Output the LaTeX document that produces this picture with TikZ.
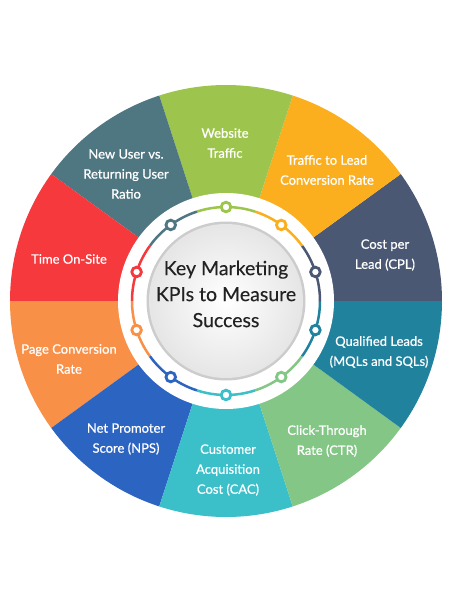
\documentclass[tikz,border=0pt]{standalone}
\usepackage{fontspec}
\setmainfont{Lato}
\newfontfamily\kpifont{Lato}[FakeBold=0.7]
\newfontfamily\titlefont{Lato}[FakeBold=0.3]
\definecolor{webgreen}{HTML}{9DC54E}
\definecolor{leadorange}{HTML}{FBAE1E}
\definecolor{cplslate}{HTML}{4B5874}
\definecolor{mqlteal}{HTML}{21829E}
\definecolor{ctrgreen}{HTML}{84C686}
\definecolor{caccyan}{HTML}{3BBFC9}
\definecolor{npsblue}{HTML}{2C64C2}
\definecolor{pageorange}{HTML}{F99048}
\definecolor{timered}{HTML}{F5393D}
\definecolor{userslate}{HTML}{4F7782}
\definecolor{titlegray}{HTML}{222222}
\begin{document}
\begin{tikzpicture}[
    kpi/.style={text=white, align=center, font=\kpifont\fontsize{13}{20}\selectfont},
    ringarc/.style={line width=2.5pt},
    ringdot/.style={draw=#1, line width=2.8pt, fill=white}
  ]
  \useasboundingbox (-226pt,-299pt) rectangle (224pt,301pt);
  % outer wedges
  \fill[cplslate]   (0,0) -- (0:216pt)   arc[start angle=0,   end angle=36,  radius=216pt] -- cycle;
  \fill[leadorange] (0,0) -- (36:216pt)  arc[start angle=36,  end angle=72,  radius=216pt] -- cycle;
  \fill[webgreen]   (0,0) -- (72:216pt)  arc[start angle=72,  end angle=108, radius=216pt] -- cycle;
  \fill[userslate]  (0,0) -- (108:216pt) arc[start angle=108, end angle=144, radius=216pt] -- cycle;
  \fill[timered]    (0,0) -- (144:216pt) arc[start angle=144, end angle=180, radius=216pt] -- cycle;
  \fill[pageorange] (0,0) -- (180:216pt) arc[start angle=180, end angle=216, radius=216pt] -- cycle;
  \fill[npsblue]    (0,0) -- (216:216pt) arc[start angle=216, end angle=252, radius=216pt] -- cycle;
  \fill[caccyan]    (0,0) -- (252:216pt) arc[start angle=252, end angle=288, radius=216pt] -- cycle;
  \fill[ctrgreen]   (0,0) -- (288:216pt) arc[start angle=288, end angle=324, radius=216pt] -- cycle;
  \fill[mqlteal]    (0,0) -- (324:216pt) arc[start angle=324, end angle=360, radius=216pt] -- cycle;
  % white ring
  \fill[white] (0,0) circle (108pt);
  % coloured ring arcs
  \draw[ringarc, cplslate]   (0:94pt)   arc[start angle=0,   end angle=36,  radius=94pt];
  \draw[ringarc, leadorange] (36:94pt)  arc[start angle=36,  end angle=72,  radius=94pt];
  \draw[ringarc, webgreen]   (72:94pt)  arc[start angle=72,  end angle=108, radius=94pt];
  \draw[ringarc, userslate]  (108:94pt) arc[start angle=108, end angle=144, radius=94pt];
  \draw[ringarc, timered]    (144:94pt) arc[start angle=144, end angle=180, radius=94pt];
  \draw[ringarc, pageorange] (180:94pt) arc[start angle=180, end angle=216, radius=94pt];
  \draw[ringarc, npsblue]    (216:94pt) arc[start angle=216, end angle=252, radius=94pt];
  \draw[ringarc, caccyan]    (252:94pt) arc[start angle=252, end angle=288, radius=94pt];
  \draw[ringarc, ctrgreen]   (288:94pt) arc[start angle=288, end angle=324, radius=94pt];
  \draw[ringarc, mqlteal]    (324:94pt) arc[start angle=324, end angle=360, radius=94pt];
  % dots on the ring
  \draw[ringdot=webgreen]   (90:94pt)  circle (4.8pt);
  \draw[ringdot=leadorange] (54:94pt)  circle (4.8pt);
  \draw[ringdot=cplslate]   (18:94pt)  circle (4.8pt);
  \draw[ringdot=mqlteal]    (-18:94pt) circle (4.8pt);
  \draw[ringdot=ctrgreen]   (-54:94pt) circle (4.8pt);
  \draw[ringdot=caccyan]    (-90:94pt) circle (4.8pt);
  \draw[ringdot=npsblue]    (-126:94pt) circle (4.8pt);
  \draw[ringdot=pageorange] (198:94pt) circle (4.8pt);
  \draw[ringdot=timered]    (162:94pt) circle (4.8pt);
  \draw[ringdot=userslate]  (126:94pt) circle (4.8pt);
  % centre disc
  \fill[black!20] (0,0) circle (79.5pt);
  \shade[inner color=white, outer color=black!10] (0,0) circle (77pt);
  \node[align=center, text=titlegray, font=\titlefont\fontsize{19.5}{26}\selectfont] (title) at (0,7pt)
    {Key Marketing\\KPIs to Measure\\Success};
  % segment labels
  \node[kpi] (website) at (-1pt,158pt)   {Website\\Traffic};
  \node[kpi] (t2lead)  at (101pt,131pt)  {Traffic to Lead\\Conversion Rate};
  \node[kpi] (cpl)     at (159pt,46pt)   {Cost per\\Lead (CPL)};
  \node[kpi] (mql)     at (153pt,-51pt)  {Qualified Leads\\(MQLs and SQLs)};
  \node[kpi] (ctr)     at (101pt,-140pt) {Click-Through\\Rate (CTR)};
  \node[kpi] (cac)     at (2pt,-169pt)   {Customer\\Acquisition\\Cost (CAC)};
  \node[kpi] (nps)     at (-100pt,-138pt) {Net Promoter\\Score (NPS)};
  \node[kpi] (pageconv) at (-157pt,-58pt) {Page Conversion\\Rate};
  \node[kpi] (onsite)  at (-157pt,42pt)  {Time On-Site};
  \node[kpi] (newuser) at (-100pt,127pt) {New User vs.\\Returning User\\Ratio};
\end{tikzpicture}
\end{document}
